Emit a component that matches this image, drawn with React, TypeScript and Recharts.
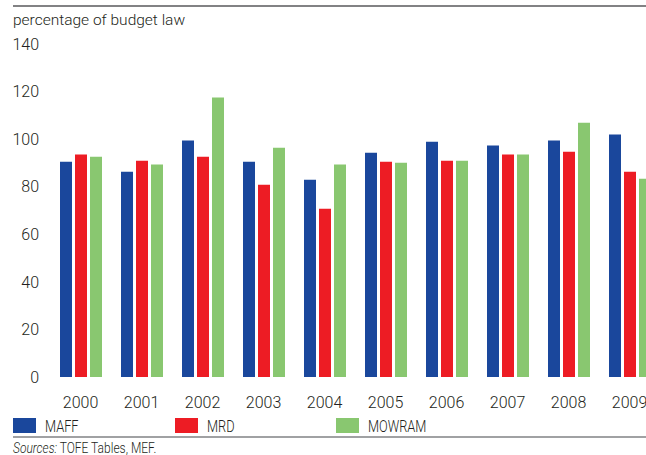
import { BarChart, Bar, XAxis, YAxis } from 'recharts';

// values, percentage of budget law
const years = ['2000', '2001', '2002', '2003', '2004', '2005', '2006', '2007', '2008', '2009'];
const maff = [90.5, 86.3, 99.4, 90.5, 82.9, 94.3, 98.9, 97.3, 99.4, 101.9];
const mrd = [93.5, 90.9, 92.6, 80.8, 70.7, 90.5, 90.9, 93.5, 94.7, 86.3];
const mowram = [92.6, 89.3, 117.5, 96.4, 89.3, 90.1, 90.9, 93.5, 106.9, 83.4];
const yTicks = [0, 20, 40, 60, 80, 100, 120, 140];

const series = [
  { key: 'MAFF', color: '#1a479c' },
  { key: 'MRD', color: '#ed1c24' },
  { key: 'MOWRAM', color: '#89c770' },
];

const rows = years.map((year, i) => ({
  year,
  MAFF: maff[i],
  MRD: mrd[i],
  MOWRAM: mowram[i],
}));

const legendX = [13, 175, 336];
const tickStyle = { fontSize: 16, fill: '#231f20', fontFamily: 'Roboto', fontWeight: 300 };

export default function App() {
  return (
    <div
      style={{
        position: 'absolute',
        left: 0,
        top: 0,
        width: 646,
        height: 455,
        overflow: 'hidden',
        background: '#fff',
      }}
    >
      <div style={{ position: 'absolute', left: 0, top: 0 }}>
        <BarChart
          width={660}
          height={417}
          data={rows}
          margin={{ top: 44, right: 0, bottom: 0, left: 0 }}
          barGap={3}
        >
          <XAxis
            dataKey="year"
            axisLine={false}
            tickLine={false}
            tickSize={0}
            tickMargin={20}
            height={40}
            interval={0}
            tick={tickStyle}
          />
          <YAxis
            domain={[0, 140]}
            ticks={yTicks}
            width={50}
            axisLine={false}
            tickLine={false}
            tickSize={0}
            tickMargin={11}
            interval={0}
            tick={tickStyle}
          />
          {series.map((s) => (
            <Bar
              key={s.key}
              dataKey={s.key}
              fill={s.color}
              barSize={12}
              isAnimationActive={false}
            />
          ))}
        </BarChart>
      </div>

      <svg
        width={646}
        height={455}
        style={{ position: 'absolute', left: 0, top: 0, pointerEvents: 'none' }}
        fontFamily="Roboto"
        fontWeight={300}
        fill="#231f20"
      >
        <line x1={13} x2={646} y1={6} y2={6} stroke="#58595b" strokeWidth={1.6} />
        <text x={13} y={25} fontSize={15.5}>
          percentage of budget law
        </text>

        {series.map((s, i) => (
          <g key={s.key}>
            <rect x={legendX[i]} y={418} width={23} height={15} fill={s.color} />
            {/* the source font is a condensed face, so squeeze Roboto a bit */}
            <text transform={`translate(${legendX[i] + 32}, 432) scale(0.8, 1)`} fontSize={16}>
              {s.key}
            </text>
          </g>
        ))}

        <line x1={13} x2={646} y1={437} y2={437} stroke="#808285" strokeWidth={1.5} />
        <text transform="translate(13, 453) scale(0.8, 1)" fontSize={15}>
          <tspan fontStyle="italic">Sources:</tspan> TOFE Tables, MEF.
        </text>
      </svg>
    </div>
  );
}
